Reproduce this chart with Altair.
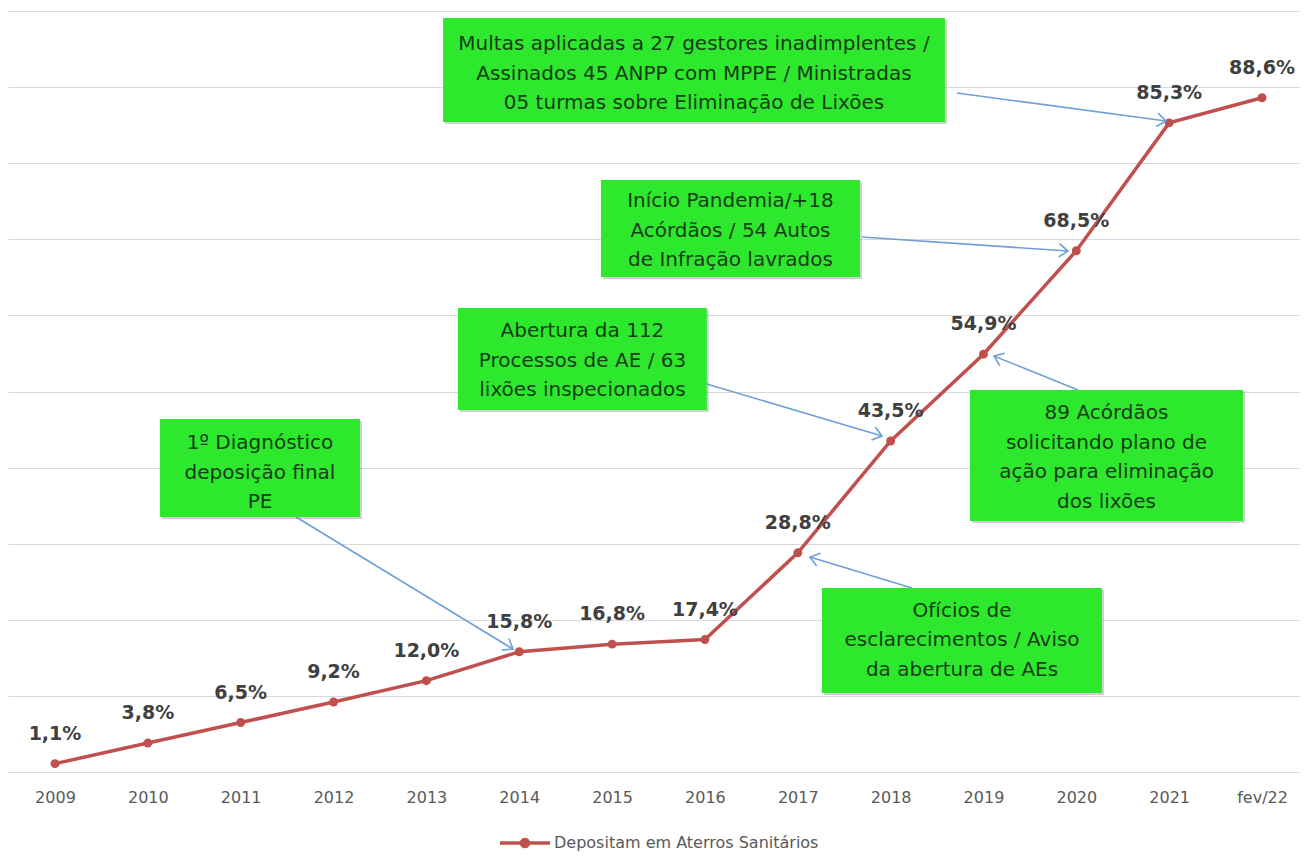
import json
import math
import altair as alt
import pandas as pd

# ---------------- data ----------------
categories = ["2009", "2010", "2011", "2012", "2013", "2014", "2015",
              "2016", "2017", "2018", "2019", "2020", "2021", "fev/22"]
values = [1.1, 3.8, 6.5, 9.2, 12.0, 15.8, 16.8, 17.4, 28.8, 43.5, 54.9, 68.5, 85.3, 88.6]
series_name = "Depositam em Aterros Sanitários"

note_lines = [
    ["Multas aplicadas a 27 gestores inadimplentes /",
     "Assinados 45 ANPP com MPPE / Ministradas",
     "05 turmas sobre Eliminação de Lixões"],
    ["Início Pandemia/+18", "Acórdãos / 54 Autos", "de Infração lavrados"],
    ["Abertura da 112", "Processos de AE / 63", "lixões inspecionados"],
    ["89 Acórdãos", "solicitando plano de", "ação para eliminação", "dos lixões"],
    ["Ofícios de", "esclarecimentos / Aviso", "da abertura de AEs"],
    ["1º Diagnóstico", "deposição final", "PE"],
]

# annotation placement (x in category-index units, y in %)
box_x1 = [4.18, 5.88, 4.34, 9.855, 8.26, 1.13]
box_x2 = [9.585, 8.67, 7.02, 12.795, 11.276, 3.285]
box_y1 = [85.41, 65.05, 47.57, 32.98, 10.38, 33.51]
box_y2 = [99.08, 77.79, 60.97, 50.20, 24.18, 46.39]
text_x = [6.882, 7.275, 5.681, 11.325, 9.769, 2.208]
text_y = [95.66, 75.03, 57.95, 47.17, 21.16, 43.23]   # first line of each note
arrow_x1 = [9.714, 8.691, 6.947, 11.018, 9.230, 2.596]
arrow_y1 = [89.22, 70.30, 51.25, 50.20, 24.18, 33.51]
arrow_x2 = [11.966, 10.910, 8.907, 10.113, 8.131, 4.933]
arrow_y2 = [85.55, 68.46, 44.15, 54.66, 28.25, 16.16]

# ---------------- layout / style ----------------
W, H = 1292, 761
X_DOMAIN = [-0.506, 13.409]
Y_DOMAIN = [0, 100]
RED = "#c0504d"
GREEN = "#2ee82e"
ARROW = "#6f9fd8"
FONT = "DejaVu Sans"

px_x = W / (X_DOMAIN[1] - X_DOMAIN[0])
px_y = H / (Y_DOMAIN[1] - Y_DOMAIN[0])

df = pd.DataFrame({
    "idx": list(range(len(categories))),
    "cat": categories,
    "value": values,
    "label": [f"{v:.1f}".replace(".", ",") + "%" for v in values],
    "series": [series_name] * len(categories),
})

boxes = pd.DataFrame({"x1": box_x1, "x2": box_x2, "y1": box_y1, "y2": box_y2})
texts = pd.DataFrame({"tx": text_x, "ty": text_y, "lines": note_lines})
angles = []
for a, b, c, d in zip(arrow_x1, arrow_y1, arrow_x2, arrow_y2):
    dx = (c - a) * px_x
    dy = -(d - b) * px_y
    angles.append(math.degrees(math.atan2(dy, dx)) % 360)
arrows = pd.DataFrame({"ax1": arrow_x1, "ay1": arrow_y1, "ax2": arrow_x2,
                       "ay2": arrow_y2, "ang": angles})

label_expr = json.dumps(categories) + "[datum.value]"
xscale = alt.Scale(domain=X_DOMAIN, nice=False, zero=False)
yscale = alt.Scale(domain=Y_DOMAIN, nice=False, zero=False)
xaxis = alt.Axis(values=list(range(len(categories))), labelExpr=label_expr,
                 grid=False, ticks=False, domain=False, title=None,
                 labelFont=FONT, labelFontSize=16, labelColor="#595959",
                 labelPadding=17, labelFlush=False, labelOverlap=False)
yaxis = alt.Axis(values=list(range(0, 101, 10)), labels=False, ticks=False,
                 domain=False, grid=True, gridColor="#d9d9d9", gridWidth=1.2,
                 title=None)


def X(f):
    return alt.X(f, type="quantitative", scale=xscale, axis=xaxis)


def Y(f):
    return alt.Y(f, type="quantitative", scale=yscale, axis=yaxis)


legend_symbol = ("M-1,0L1,0M-0.14,0A0.14,0.14,0,1,1,0.14,0"
                 "A0.14,0.14,0,1,1,-0.14,0Z")
color = alt.Color("series:N", scale=alt.Scale(range=[RED]),
                  legend=alt.Legend(title=None, orient="none", legendX=490,
                                    legendY=805, symbolType=legend_symbol,
                                    symbolSize=2500, symbolStrokeWidth=3.5,
                                    symbolFillColor=RED, symbolStrokeColor=RED,
                                    labelFont=FONT, labelFontSize=16,
                                    labelColor="#595959", labelOffset=2,
                                    labelLimit=500, padding=0))

line = alt.Chart(df).mark_line(strokeWidth=3.5).encode(
    x=X("idx"), y=Y("value"), color=color)
points = alt.Chart(df).mark_point(filled=True, size=80, opacity=1).encode(
    x=X("idx"), y=Y("value"), color=color)
labels = alt.Chart(df).mark_text(
    dy=-30, baseline="middle", align="center", font=FONT, fontSize=19,
    fontWeight="bold", color="#404040").encode(
    x=X("idx"), y=Y("value"), text="label:N")

shadow = alt.Chart(boxes).mark_rect(
    color="#7a7a7a", opacity=0.35, xOffset=2, x2Offset=2, yOffset=2, y2Offset=2
).encode(x=X("x1"), x2="x2", y=Y("y1"), y2="y2")
rects = alt.Chart(boxes).mark_rect(color=GREEN).encode(
    x=X("x1"), x2="x2", y=Y("y1"), y2="y2")
notes = alt.Chart(texts).mark_text(
    font=FONT, fontSize=20, color="#173d17", lineHeight=29.5,
    baseline="middle", align="center").encode(
    x=X("tx"), y=Y("ty"), text="lines")
arrow_lines = alt.Chart(arrows).mark_rule(color=ARROW, strokeWidth=1.6).encode(
    x=X("ax1"), x2="ax2", y=Y("ay1"), y2="ay2")
arrow_heads = alt.Chart(arrows).mark_point(
    shape="M-1,-0.75L0,0L-1,0.75", size=324, filled=False, stroke=ARROW,
    strokeWidth=1.6, opacity=1).encode(
    x=X("ax2"), y=Y("ay2"), angle=alt.Angle("ang:Q", scale=None))

chart = alt.layer(
    line, points, labels, arrow_lines, arrow_heads, shadow, rects, notes
).properties(
    width=W, height=H,
    autosize=alt.AutoSizeParams(type="none"),
    padding={"left": 0, "top": 3, "right": 0, "bottom": 88},
    background="white",
).configure_view(stroke=None)

chart.save("out.html", embed_options={"renderer": "svg", "actions": False})
